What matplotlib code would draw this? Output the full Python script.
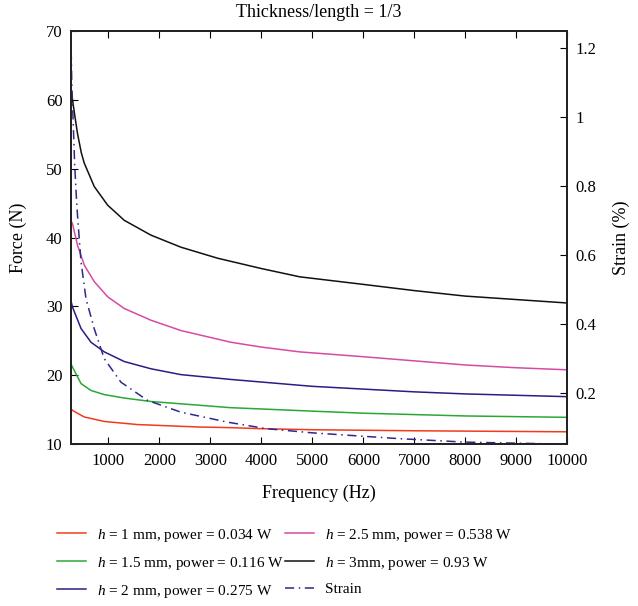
import numpy as np
import matplotlib
matplotlib.use("Agg")
import matplotlib.pyplot as plt

plt.rcParams['font.family'] = ['Liberation Serif', 'DejaVu Serif']
plt.rcParams['mathtext.fontset'] = 'custom'
plt.rcParams['mathtext.rm'] = 'Liberation Serif'
plt.rcParams['mathtext.it'] = 'Liberation Serif:italic'

# force curves (frequency Hz -> force N)
f_h1 = [261, 294, 525, 918, 1572, 2755, 3402, 4000, 5000, 7000, 10000]
F_h1 = [15.2, 14.9, 13.95, 13.3, 12.85, 12.5, 12.4, 12.25, 12.1, 11.95, 11.8]

f_h15 = [261, 294, 461, 657, 918, 1310, 1833, 3402, 5000, 6000, 8000, 10000]
F_h15 = [21.7, 21.2, 18.8, 17.8, 17.2, 16.7, 16.2, 15.3, 14.8, 14.5, 14.1, 13.9]

f_h2 = [261, 294, 461, 657, 918, 1310, 1833, 2421, 3402, 5000, 6000, 7000, 8000, 9000, 10000]
F_h2 = [30.9, 29.9, 26.8, 24.8, 23.4, 22.0, 20.95, 20.1, 19.4, 18.4, 18.0, 17.6, 17.3, 17.1, 16.9]

f_h25 = [261, 294, 392, 525, 721, 984, 1310, 1833, 2421, 3402, 4000, 4752, 6000, 7000, 8000,
         9000, 10000]
F_h25 = [42.5, 42.0, 38.9, 36.0, 33.6, 31.4, 29.7, 28.0, 26.5, 24.8, 24.1, 23.4, 22.7, 22.1,
         21.5, 21.1, 20.8]

f_h3 = [261, 294, 337, 392, 467, 525, 721, 984, 1310, 1833, 2421, 3141, 4000, 4752, 6000,
        7000, 8000, 9000, 10000]
F_h3 = [61.4, 60.0, 57.8, 55.1, 52.3, 50.8, 47.4, 44.7, 42.5, 40.35, 38.6, 37.0, 35.5, 34.3,
        33.2, 32.3, 31.5, 31.0, 30.5]

# strain (%) on the right axis
f_strain = [261, 280, 337, 369, 392, 435, 461, 559, 721, 918, 1245, 1768, 2421, 3336, 4100,
            5000, 6000, 6716, 8000, 9000, 10000]
strain = [1.25, 1.10, 0.86, 0.77, 0.715, 0.63, 0.58, 0.472, 0.385, 0.298, 0.230, 0.177, 0.143,
          0.114, 0.095, 0.083, 0.073, 0.066, 0.056, 0.053, 0.050]

labels = ['$h$ = 1 mm, power = 0.034 W',
          '$h$ = 1.5 mm, power = 0.116 W',
          '$h$ = 2 mm, power = 0.275 W',
          '$h$ = 2.5 mm, power = 0.538 W',
          '$h$ = 3mm, power = 0.93 W',
          'Strain']
colors = ['#f23b1c', '#2aa836', '#2b1c86', '#d84aa2', '#111111', '#2b2a8c']

fig = plt.figure(figsize=(6.38, 6.06), dpi=100)
ax = fig.add_axes([0.111, 0.267, 0.778, 0.682])

series = [(f_h1, F_h1), (f_h15, F_h15), (f_h2, F_h2), (f_h25, F_h25), (f_h3, F_h3)]
handles = []
for (x, y), c, lab in zip(series, colors[:5], labels[:5]):
    h, = ax.plot(x, y, color=c, lw=1.1, label=lab)
    handles.append(h)

ax.set_xlim(261, 10000)
ax.set_ylim(10, 70)
ax.set_xticks(range(1000, 10001, 1000))
ax.set_yticks(range(10, 71, 10))
ax.tick_params(direction='in', top=True, right=True, length=5, labelsize=12)
ax.tick_params(axis='x', pad=6)
ax.tick_params(axis='y', pad=6)
ax.set_xlabel('Frequency (Hz)', fontsize=13)
ax.set_ylabel('Force (N)', fontsize=13)
ax.xaxis.set_label_coords(0.5, -0.097)
ax.yaxis.set_label_coords(-0.089, 0.5)
fig.text(0.5, 0.980, 'Thickness/length = 1/3', fontsize=13, ha='center', va='center')

ax2 = ax.twinx()
hs, = ax2.plot(f_strain, strain, color=colors[5], lw=1.1, linestyle=(0, (6, 3, 1, 3)),
               label=labels[5])
handles.append(hs)
ax2.set_ylim(0.05, 1.25)
ax2.set_yticks([0.2, 0.4, 0.6, 0.8, 1.0, 1.2])
ax2.set_yticklabels(['0.2', '0.4', '0.6', '0.8', '1', '1.2'])
ax2.tick_params(direction='in', length=5, labelsize=12, pad=6)
ax2.set_ylabel('Strain (%)', fontsize=13)
ax2.yaxis.set_label_coords(1.091, 0.5)

for a in (ax, ax2):
    for s in a.spines.values():
        s.set_linewidth(1.3)
        s.set_color('#222222')

fig.legend(handles=handles, loc='upper left', bbox_to_anchor=(0.0893, 0.131), ncol=2,
           frameon=False, fontsize=11, handlelength=1.9, handletextpad=0.7,
           columnspacing=0.1, labelspacing=0.72, borderpad=0, borderaxespad=0)

fig.savefig('out.png', dpi=100)
